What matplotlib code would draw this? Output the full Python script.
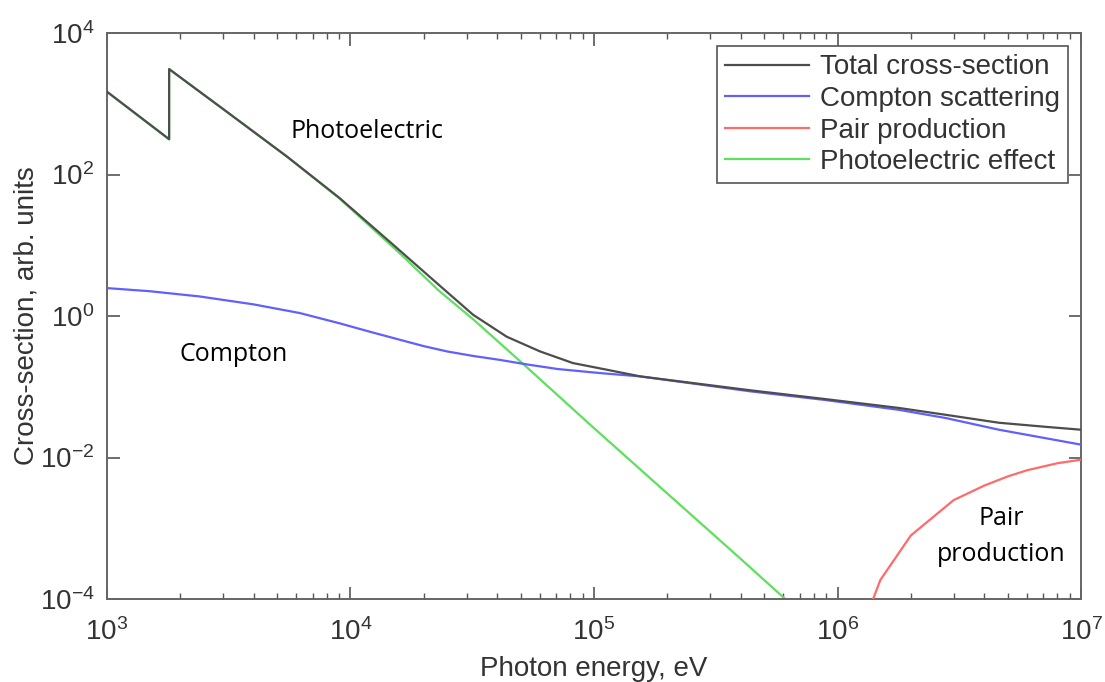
import matplotlib.pyplot as plt
from matplotlib.ticker import LogLocator, NullLocator

plt.rcParams['font.family'] = ['Liberation Sans', 'DejaVu Sans']
plt.rcParams['mathtext.default'] = 'regular'

# Werte (Energie in eV, Wirkungsquerschnitt in willk. Einheiten)
total_e = [1e3, 1.8e3, 1.8e3, 3e3, 5.5e3, 9e3, 1.45e4, 2.33e4, 3.19e4, 4.38e4, 6e4,
           8.2e4, 1.13e5, 1.55e5, 4.4e5, 8.9e5, 1.8e6, 2.8e6, 4.6e6, 7.1e6, 1e7]
total_y = [1480, 316, 3090, 841, 178, 46.8, 11.2, 2.67, 1.04, 0.51, 0.316,
           0.216, 0.174, 0.140, 0.089, 0.067, 0.050, 0.040, 0.031, 0.0272, 0.0247]

compton_e = [1e3, 1.5e3, 2.4e3, 4e3, 6.2e3, 9e3, 1.2e4, 1.6e4, 2e4, 2.5e4, 3.2e4,
             4.1e4, 5.2e4, 7.1e4, 1.06e5, 1.55e5, 2.5e5, 4.4e5, 8.9e5, 1.8e6,
             2.8e6, 4.6e6, 1e7]
compton_y = [2.48, 2.24, 1.89, 1.46, 1.10, 0.79, 0.60, 0.46, 0.375, 0.315, 0.272,
             0.24, 0.209, 0.178, 0.156, 0.140, 0.112, 0.086, 0.065, 0.047,
             0.036, 0.0247, 0.0152]

pair_e = [1.4e6, 1.5e6, 2e6, 3e6, 4e6, 5e6, 6e6, 8e6, 1e7]
pair_y = [1e-4, 1.86e-4, 7.9e-4, 2.5e-3, 4.0e-3, 5.4e-3, 6.6e-3, 8.3e-3, 9.3e-3]

photo_e = [1e3, 1.8e3, 1.8e3, 3e3, 5.5e3, 9e3, 1.6e4, 2.3e4, 3.2e4, 5.2e4, 1e5,
           2e5, 4e5, 6.1e5]
photo_y = [1477, 313, 3090, 841, 178, 46, 7.6, 2.3, 0.89, 0.20, 0.026,
           3.1e-3, 3.7e-4, 1e-4]

y_ticks = [1e-4, 1e-2, 1e0, 1e2, 1e4]

labels = ['Total cross-section', 'Compton scattering', 'Pair production',
          'Photoelectric effect']

fig = plt.figure(figsize=(11.05, 6.82), dpi=100)
ax = fig.add_axes([0.0968, 0.1217, 0.8815, 0.8299])

ax.plot(total_e, total_y, color='#4d4d4d', lw=1.6, label=labels[0], zorder=5)
ax.plot(compton_e, compton_y, color='#6060ff', lw=1.6, label=labels[1], zorder=3)
ax.plot(pair_e, pair_y, color='#ff6a6a', lw=1.6, label=labels[2], zorder=3)
ax.plot(photo_e, photo_y, color='#5de05d', lw=1.6, label=labels[3], zorder=2)

ax.set_xscale('log')
ax.set_yscale('log')
ax.set_xlim(1e3, 1e7)
ax.set_ylim(1e-4, 1e4)
ax.set_yticks(y_ticks)
ax.yaxis.set_minor_locator(NullLocator())
ax.xaxis.set_minor_locator(LogLocator(base=10, subs=range(2, 10)))

ax.tick_params(which='both', direction='in', top=True, right=True,
               colors='#555555', labelcolor='#333333', labelsize=20)
ax.tick_params(which='major', length=9, width=1.2)
ax.tick_params(axis='x', which='major', pad=14)
ax.tick_params(axis='y', which='major', pad=9)
ax.tick_params(which='minor', length=4, width=1.0)
for s in ax.spines.values():
    s.set_color('#666666')
    s.set_linewidth(1.4)

ax.set_xlabel('Photon energy, eV', fontsize=20, color='#333333', labelpad=7)
ax.set_ylabel('Cross-section, arb. units', fontsize=20, color='#333333', labelpad=0)

leg = ax.legend(loc='upper right', fontsize=20, handlelength=3, fancybox=False,
                edgecolor='#555555', framealpha=1, borderaxespad=0.47,
                labelspacing=0.2, borderpad=0.3, handletextpad=0.4)
leg.get_frame().set_linewidth(1.2)
for t in leg.get_texts():
    t.set_color('#333333')

# Beschriftungen im Diagramm
ax.text(5650, 400, 'Photoelectric', fontsize=18, family='Open Sans', va='center')
ax.text(1977, 0.29, 'Compton', fontsize=18, family='Open Sans', va='center')
ax.text(4.69e6, 7.6e-4, 'Pair\nproduction', fontsize=18, family='Open Sans',
        va='center', ha='center', linespacing=1.6)

fig.savefig('out.png', dpi=100)
